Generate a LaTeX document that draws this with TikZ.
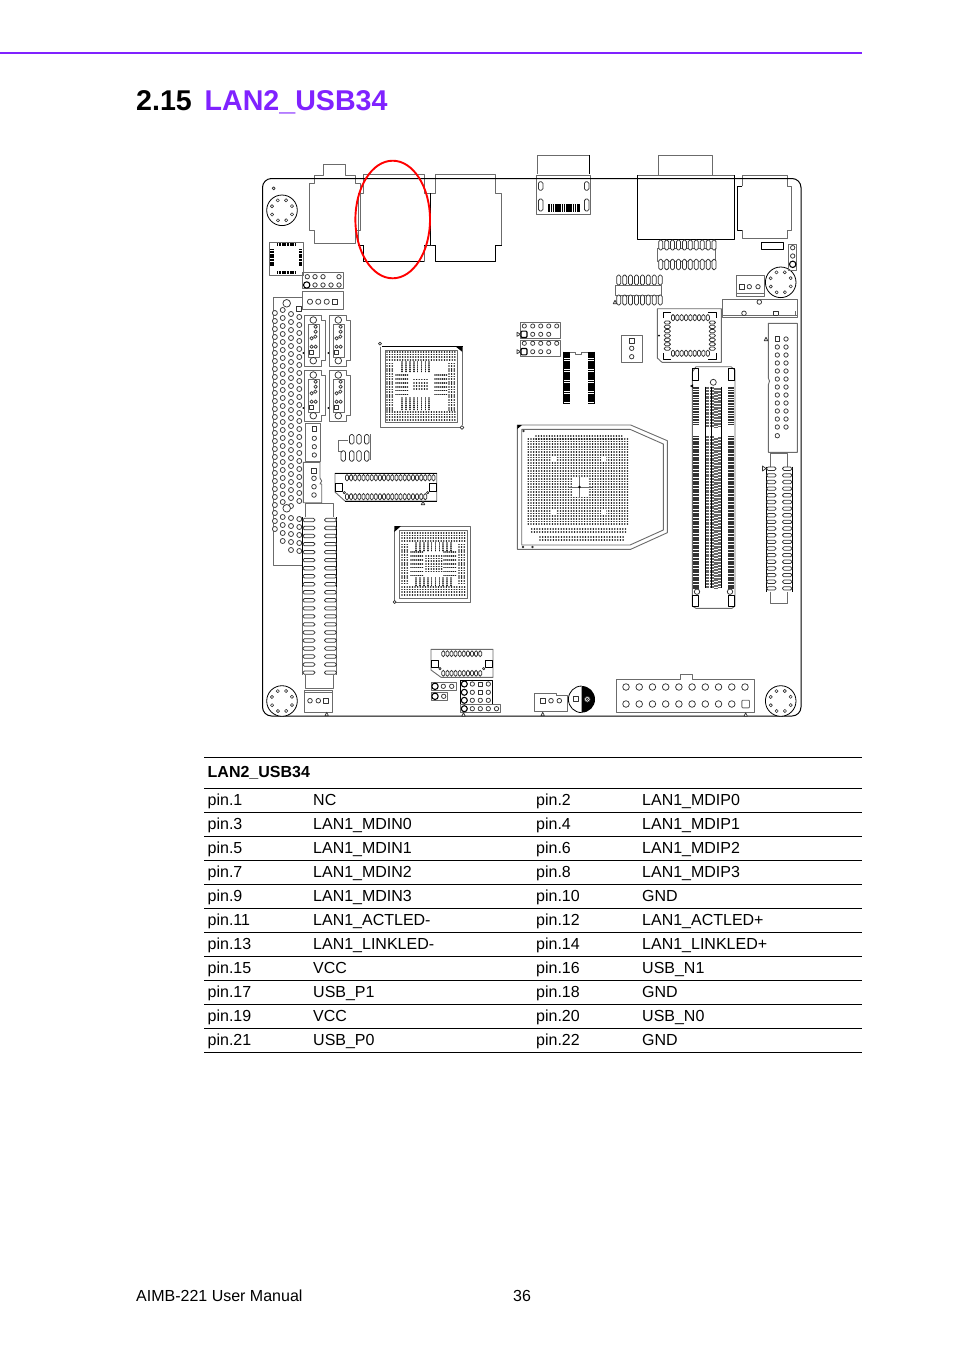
\documentclass[tikz,border=0pt]{standalone}
\usepackage{fontspec}
\setmainfont{Liberation Sans}
\usepackage{tikz}
\usetikzlibrary{calc}
\definecolor{titlepurple}{HTML}{8022FF}
\definecolor{partgray}{gray}{0.42}
\tikzset{
	boardline/.style={draw=black,line width=1pt},
	partline/.style={draw=partgray,line width=0.9pt},
	pinline/.style={draw=black!80,line width=0.75pt,fill=white},
	boldpin/.style={draw=black,line width=1.1pt,fill=white},
	tablerule/.style={draw=black,line width=0.8pt},
	tabletext/.style={anchor=base west,inner sep=0pt,font=\fontsize{16}{16}\selectfont},
	chipdot/.style={draw=black!90,line width=1.65pt,line cap=round},
}
% x y radius
\newcommand{\holept}[3]{\draw[pinline] (#1,#2) circle (#3);}
\newcommand{\squarept}[3]{\draw[pinline] (#1-#3,#2-#3) rectangle (#1+#3,#2+#3);}
\newcommand{\ovalpt}[4]{\draw[pinline,rounded corners=1.6pt] (#1-#3,#2-#4) rectangle (#1+#3,#2+#4);}
\newcommand{\markpt}[2]{\draw[pinline] (#1-1.7,#2+1.7) -- (#1+1.7,#2+1.7) -- (#1,#2-1.7) -- cycle;}
% mounting hole
\newcommand{\screwhole}[2]{
	\draw[boardline,line width=.8pt,fill=white] (#1,#2) circle (15.3);
	\foreach \a in {22,67,...,337}
		\draw[pinline,line width=.6pt] ($(#1,#2)+(\a:10.8)$) circle (1.6);
}
% rows of solder balls: x0 x1 y0 y1 rowstep dotstep
\newcommand{\dotrows}[6]{
	\pgfmathsetmacro{\ynext}{#3+#5}
	\foreach \y in {#3,\ynext,...,#4}
		\draw[chipdot,dash pattern=on 0.01pt off #6pt] (#1,\y) -- (#2,\y);
}
\newcommand{\dotcols}[6]{
	\pgfmathsetmacro{\xnext}{#1+#5}
	\foreach \x in {#1,\xnext,...,#2}
		\draw[chipdot,dash pattern=on 0.01pt off #6pt] (\x,#3) -- (\x,#4);
}
\begin{document}
\begin{tikzpicture}[x=1pt,y=-1pt,line join=round]
	\useasboundingbox (0,0) rectangle (954,1350);
	\fill[white] (0,0) rectangle (954,1350);
	\draw[draw=titlepurple,line width=1.6pt] (0,53) -- (862,53);
	\node[anchor=base west,inner sep=0pt,font=\bfseries\fontsize{28.6}{28.6}\selectfont] (secnum) at (136,110) {2.15};
	\node[anchor=base west,inner sep=0pt,text=titlepurple,font=\bfseries\fontsize{28.6}{28.6}\selectfont] (sectitle) at (204.5,110) {LAN2\_USB34};

	% connectors that stick out over the board edge
	\draw[partline] (309.3,183.3) -- (314.3,183.3) -- (314.3,175) -- (323.3,175) -- (323.3,164.3) -- (345.7,164.3) -- (345.7,175) -- (355,175) -- (355,183.3) -- (360.3,183.3) -- (360.3,230) -- (355,230) -- (355,243.3) -- (314.3,243.3) -- (314.3,230) -- (309.3,230) -- cycle;
	\draw[partline] (363.3,174) -- (424.3,174) -- (424.3,193) -- (430,193) -- (430,245) -- (424.3,245) -- (424.3,261) -- (363.3,261) -- (363.3,245) -- (358.3,245) -- (358.3,193) -- (363.3,193) -- cycle;
	\draw[partline] (435.7,174) -- (495.7,174) -- (495.7,193) -- (501.7,193) -- (501.7,245) -- (495.7,245) -- (495.7,261) -- (435.7,261) -- (435.7,245) -- (430,245) -- (430,193) -- (435.7,193) -- cycle;
	\draw[boardline] (363.3,245) -- (358.3,245) (363.3,245) -- (363.3,261) -- (424.3,261) (424.3,245) -- (430,245) -- (435.7,245) -- (435.7,261) -- (495.7,261) -- (495.7,245) -- (501.7,245) (430,245) -- (430,193);
	\draw[partline] (537.3,174) -- (537.3,155) -- (589.7,155) -- (589.7,174);
	\draw[partline] (536.7,175) rectangle (590,214.3);
	\draw[boardline,line width=.7pt] (589.7,155) -- (589.7,174);
	\foreach \x in {540.7,586.7}{
		\ovalpt{\x}{186}{2.3}{4.3}
		\ovalpt{\x}{205}{2.3}{6}
	}
	\draw[draw=black,line width=8pt,dash pattern=on 1.7pt off .5pt] (548.3,207.5) -- (579.3,207.5);
	\draw[partline] (658.3,175) -- (658.3,155) -- (712.3,155) -- (712.3,175);
	\draw[partline] (637.3,175) -- (734.7,175);
	\draw[boardline] (637.3,175) -- (637.3,239.3) -- (734.7,239.3) -- (734.7,175);
	\draw[partline] (742.3,186) -- (742.3,175.7) -- (787.7,175.7) -- (787.7,186) -- (791.7,186) -- (791.7,230) -- (787.7,230) -- (787.7,238.3) -- (742.3,238.3) -- (742.3,230);
	\draw[boardline] (742.3,186) -- (737.3,186) -- (737.3,230) -- (742.3,230);

	% board outline
	\draw[boardline,rounded corners=9pt] (262.5,178.5) rectangle (801,716);
	\screwhole{282}{210.3}
	\screwhole{780.7}{282.3}
	\screwhole{282}{701}
	\screwhole{780.7}{701}
	\holept{273.7}{188.3}{1.5}

	% clock chip top left
	\draw[partline] (269.3,242) rectangle (303.3,275.3);
	\draw[draw=black,line width=3.6pt,dash pattern=on 1.2pt off .4pt] (277,244.5) -- (296,244.5) (277,272.5) -- (296,272.5) (272,249) -- (272,266) (300.5,249) -- (300.5,266);
	% two headers
	\draw[partline] (302.3,272.7) rectangle (343,288.7);
	\foreach \x in {307.3,315,323,339}{
		\holept{\x}{276.7}{2.2}
	}
	\foreach \x in {315,323,331,339}{
		\holept{\x}{285}{2.2}
	}
	\draw[boldpin] (306.7,285) circle (3.2);
	\draw[partline] (302.3,291.3) rectangle (343,309.3);
	\foreach \x in {310,318.3,326.7}{
		\holept{\x}{301.7}{2.6}
	}
	\squarept{335}{301.7}{2.6}

	% big header on the left
	\draw[partline] (301.7,297.3) -- (273.3,297.3) -- (273.3,565.7) -- (301.7,565.7);
	\foreach \y in {317,325,...,503,519,527,...,551}{
		\holept{299.3}{\y}{2.5}
	}
	\foreach \y in {314,322,...,506,518,526,...,554}{
		\holept{291}{\y}{2.5}
	}
	\foreach \y in {310,318,...,502,517,525,...,543}{
		\holept{282.7}{\y}{2.5}
	}
	\foreach \y in {313,321,...,505,513,521,529}{
		\holept{274.9}{\y}{2.5}
	}
	\draw[pinline] (286.7,303.3) circle (3.8);
	\draw[pinline] (286.7,508.3) circle (3.8);
	\squarept{299}{309}{2.4}

	% sata ports
	\foreach \px/\py in {304.3/315,329.3/315,304.3/370,329.3/370}{
		\begin{scope}[shift={(\px,\py)}]
			\draw[partline] (0,0) -- (16.7,0) -- (16.7,5.7) -- (20.7,5.7) -- (20.7,45) -- (16.7,45) -- (16.7,51) -- (0,51) -- cycle;
			\draw[partline] (4,9) rectangle (15,42);
			\draw[pinline] (9,5) circle (3.3) (9,45.7) circle (3.3);
			\foreach \qx/\qy in {11.3/11.7,11.3/16.7,11/21.7,7.3/23.3,7.3/31.7,11.3/31.7}{
				\holept{\qx}{\qy}{1.7}
			}
			\squarept{7.3}{37.3}{1.9}
			\fill[black] (-1,38) circle (1);
		\end{scope}
	}

	% north bridge
	\draw[partline] (380,346.5) -- (380,427.5) -- (460,427.5) (462.5,352) -- (462.5,425);
	\draw[boardline] (382,346) -- (462.5,346);
	\fill[black] (455,346) -- (462.5,346) -- (462.5,352) -- cycle;
	\holept{380}{343.6}{1.5}
	\holept{462}{427.5}{1.8}
	\draw[partline] (385,350) rectangle (457.7,422.7);
	\dotrows{387}{456}{352}{361}{2.6}{2.6}
	\dotrows{387}{456}{412}{421}{2.6}{2.6}
	\dotrows{387}{394}{363.5}{411}{2.6}{2.6}
	\dotrows{449}{456}{363.5}{411}{2.6}{2.6}
	\dotrows{396}{408}{375}{396}{3.9}{1.9}
	\dotrows{435}{447}{375}{396}{3.9}{1.9}
	\dotcols{402}{430}{362}{373}{3.9}{1.9}
	\dotcols{402}{430}{398}{410}{3.9}{1.9}
	\dotrows{414}{428}{379.5}{392}{3.2}{2.6}

	% south bridge
	\draw[partline] (394.5,530) -- (394.5,602.3) -- (470.7,602.3) -- (470.7,526) -- (398,526);
	\fill[black] (394.3,526) -- (401,526) -- (394.3,532) -- cycle;
	\holept{394.7}{602}{1.5}
	\draw[partline] (399.5,530.7) rectangle (467,598.3);
	\dotrows{402}{466}{533}{542}{2.6}{2.6}
	\dotrows{402}{466}{587}{596}{2.6}{2.6}
	\dotrows{402}{409}{544.5}{586}{2.6}{2.6}
	\dotrows{459}{466}{544.5}{586}{2.6}{2.6}
	\dotrows{411}{424}{552}{577}{3.9}{1.9}
	\dotrows{444}{457}{552}{577}{3.9}{1.9}
	\dotcols{416}{452}{543}{552}{3.9}{1.9}
	\dotcols{416}{452}{578}{586}{3.9}{1.9}
	\dotrows{426}{442}{556}{574}{2.6}{2.6}

	% cpu socket
	\draw[partline] (517.3,425) -- (630.7,425) -- (667.3,440.7) -- (667.3,532.7) -- (630.7,549.3) -- (517.3,549.3) -- cycle;
	\draw[partline] (521.7,429.3) -- (630,429.3) -- (663.3,444) -- (663.3,530) -- (630,545) -- (521.7,545) -- cycle;
	\fill[black] (517.3,425) -- (522,425) -- (517.3,429) -- cycle;
	\holept{523.5}{431}{.9}
	\holept{523}{547}{.9}
	\holept{532.5}{547}{.9}
	\dotrows{536}{622.7}{436}{437}{2.67}{2.67}
	\dotrows{528.3}{630}{438.7}{526.5}{2.67}{2.67}
	\dotrows{531.7}{626.7}{529.2}{534.5}{2.67}{2.67}
	\dotrows{540}{623.5}{537.2}{538}{2.67}{2.67}
	\fill[white] (572,478) rectangle (588,497);
	\fill[white] (551,457) rectangle (556,461) (601,457) rectangle (606,461) (551,510) rectangle (556,514) (601,510) rectangle (606,514);
	\draw[draw=partgray,line width=.7pt] (568,487) -- (592,487) (579.5,475) -- (579.5,498);
	\fill[black] (579.5,487) circle (1.3);

	% bios socket and headers
	\foreach \hy in {322.3,340}{
		\draw[partline] (520,\hy) rectangle (560.7,\hy+16.5);
	}
	\foreach \x in {524.3,532.7,540.7,548.7,556.7}{
		\holept{\x}{326}{2.1}
		\holept{\x}{343.3}{2.1}
	}
	\foreach \x in {532.7,540.7,548.7}{
		\holept{\x}{334.3}{2.1}
		\holept{\x}{351.7}{2.1}
	}
	\foreach \y in {334.3,351.7}{
		\draw[boldpin,rounded corners=1pt] (521,\y-3.2) rectangle (527,\y+3.2);
		\draw[pinline] (517,\y-2) -- (520.5,\y) -- (517,\y+2) -- cycle;
	}
	\draw[draw=black,line width=6.4pt,dash pattern=on 1.8pt off .4pt] (566.5,352) -- (566.5,403.3) (591.5,352) -- (591.5,403.3);
	\draw[boardline,line width=.5pt] (563.3,351.7) -- (563.3,403.3) (594.7,351.7) -- (594.7,403.3);
	\draw[partline,line width=.6pt] (569.5,352) -- (575,352) -- (575,354.5) -- (581,354.5) -- (581,352) -- (588,352);
	\draw[partline] (621,335) rectangle (642.7,362.7);
	\squarept{631.7}{340.7}{2.2}
	\holept{631.7}{348.3}{2.2}
	\holept{631.7}{356.7}{2.2}

	% pin rows under vga
	\draw[partline] (657.3,248) rectangle (715.7,261.5);
	\foreach \i in {0,...,9}{
		\ovalpt{660.7+5.93*\i}{245}{2}{5}
		\ovalpt{660.7+5.93*\i}{264.5}{2}{5.2}
	}
	\draw[partline] (615,285) rectangle (661.7,295);
	\foreach \i in {0,...,7}{
		\ovalpt{618.7+5.93*\i}{280}{2}{5}
		\ovalpt{618.7+5.93*\i}{300}{2}{5}
	}
	\markpt{615}{302}

	% right side small parts
	\draw[boardline,line width=.8pt] (761.3,242.3) rectangle (783.3,249.3);
	\draw[partline] (788.7,244) rectangle (796.7,270);
	\holept{792.7}{247.7}{2.2}
	\holept{792.7}{256}{2.2}
	\draw[boldpin] (792.7,264.3) circle (3.2);
	\draw[partline] (736,275.3) rectangle (764.3,296.7);
	\draw[partline] (736,293) -- (764.3,293);
	\squarept{741.7}{286.7}{2.2}
	\holept{749.3}{286.7}{2.2}
	\holept{758}{286.7}{2.2}
	\draw[partline] (722.3,299) rectangle (797.3,317.3);
	\draw[partline,line width=.6pt] (722.3,315) -- (797.3,315);
	\holept{759.3}{302}{2.3}
	\holept{744}{313.3}{2.3}
	\squarept{775.7}{313.3}{2.3}
	\draw[partline,line width=.6pt] (778,315) -- (795,315) -- (795,311);

	% plcc socket
	\draw[partline] (657.3,308.7) -- (721.3,308.7) -- (721.3,362.3) -- (662,362.3) -- (657.3,358) -- cycle;
	\draw[boardline,line width=.7pt] (663,318) -- (663,312.5) -- (671,312.5) (708,312.5) -- (716,312.5) -- (716,318) (716,353) -- (716,359) -- (708,359) (671,359) -- (663,359) -- (663,353);
	\foreach \i in {0,...,8}{
		\ovalpt{673+4.35*\i}{317.7}{1.6}{3.2}
		\ovalpt{673+4.35*\i}{353.3}{1.6}{3.2}
	}
	\foreach \i in {0,...,6}{
		\ovalpt{667.3}{322.5+4.35*\i}{3.2}{1.6}
		\ovalpt{712.3}{322.5+4.35*\i}{3.2}{1.6}
	}
	\fill[black] (659,335.5) circle (1);

	% right header and slot
	\draw[partline] (768.3,323.3) -- (797.3,323.3) -- (797.3,452.3) -- (768.3,452.3) -- (768.3,385) -- (769.5,381) -- (768.3,378) -- cycle;
	\markpt{766}{339}
	\squarept{777.3}{339}{2.2}
	\foreach \y in {347,355,...,427}{
		\holept{777.3}{\y}{2.2}
	}
	\foreach \y in {339,347,...,427}{
		\holept{786}{\y}{2.2}
	}
	\holept{777.3}{435.7}{2.2}
	\draw[partline] (770.7,466.7) -- (770.7,453) -- (787.7,453) -- (787.7,466.7) (770.7,591.7) -- (770.7,603.3) -- (787.7,603.3) -- (787.7,591.7);
	\draw[boardline,line width=.8pt] (766.5,466.7) -- (766.5,591.7) (792.5,466.7) -- (792.5,591.7);
	\foreach \i in {0,...,18}{
		\ovalpt{771.3}{468.7+6.65*\i}{4.8}{1.7}
		\ovalpt{787.2}{468.7+6.65*\i}{4.8}{1.7}
	}
	\draw[pinline] (762.5,466) -- (766,468.5) -- (762.5,471) -- cycle;

	% mini pcie slot
	\draw[partline] (692.3,372) -- (692.3,606) -- (696,608.3) -- (732,608.3) -- (735,606) -- (735,370) -- (731,366.7) -- (696,366.7) -- cycle;
	\draw[boardline,line width=.7pt] (692.7,368.3) rectangle (698.7,380) (728.7,368.3) rectangle (734.3,380);
	\draw[boardline,line width=.7pt] (692.7,595) rectangle (698.7,606.7) (728.7,595) rectangle (734.3,606.7);
	\draw[draw=black!80,line width=6pt,dash pattern=on 1.1pt off .5pt] (696.3,386.7) -- (696.3,424) (696.3,436) -- (696.3,588.3) (730.7,386.7) -- (730.7,424) (730.7,436) -- (730.7,588.3);
	\draw[draw=black!60,line width=3.5pt,dash pattern=on 2.2pt off 1pt] (707.5,386.7) -- (707.5,427) (712,386.7) -- (712,427) (716,388.2) -- (716,427) (720,387.5) -- (720,427) (707.5,436) -- (707.5,588) (712,436) -- (712,588) (716,437.5) -- (716,588) (720,436.8) -- (720,588);
	\draw[boardline,line width=.6pt] (705.7,386.7) -- (705.7,588.3) (711.5,386.7) -- (711.5,588.3) (721.7,386.7) -- (721.7,588.3);
	\draw[pinline] (713.3,382.3) circle (3);
	\draw[pinline] (697,591.7) circle (2.7);
	\draw[pinline] (730,591.7) circle (2.7);
	\fill[black] (690,386) -- (693,384.3) -- (693,387.7) -- cycle;

	% left connectors in the middle
	\draw[partline] (305,423.3) -- (305,461.7) -- (320,461.7) -- (320,423.3) -- cycle;
	\squarept{314.3}{429}{2.2}
	\foreach \y in {438.3,446.7,455}{
		\holept{314.3}{\y}{2.2}
	}
	\draw[partline] (303.3,462.3) -- (320,462.3) -- (320,478) -- (321.7,481) -- (320,484) -- (321.7,484) -- (321.7,502.7) -- (303.3,502.7) -- cycle;
	\squarept{314}{470.7}{2.3}
	\foreach \y in {478.3,486.7,495}{
		\holept{314}{\y}{2.3}
	}
	\draw[partline] (338,451) -- (338,440) -- (348,440) (370,434) -- (370,460) (338,451) -- (342,451);
	\foreach \x in {351.7,359,366.7}{
		\ovalpt{\x}{439.3}{2.2}{4.8}
		\ovalpt{\x}{456}{2.2}{5.2}
	}
	\ovalpt{343.3}{456}{2.2}{5.2}
	\draw[partline] (335,473.3) -- (436.7,473.3) -- (436.7,501) -- (345,501) -- (335,492) -- cycle;
	\draw[boardline,line width=.5pt] (335,473.3) -- (436.7,473.3) (345,501) -- (436.7,501);
	\foreach \i in {0,...,21}{
		\ovalpt{347+4.12*\i}{477.7}{1.5}{3.2}
	}
	\foreach \i in {0,...,19}{
		\ovalpt{347+4.12*\i}{496.7}{1.5}{3.2}
	}
	\draw[boardline,line width=.7pt] (335.7,483.3) rectangle (342.3,491) (429.5,483.3) rectangle (436.2,491);
	\holept{344.3}{492.7}{1.2}
	\holept{427.7}{492.7}{1.2}
	\markpt{423}{503}

	% long slot
	\draw[partline] (305.7,517.3) -- (305.7,503.3) -- (333.3,503.3) -- (333.3,517.3) (305.7,675) -- (305.7,688.3) -- (333.3,688.3) -- (333.3,675);
	\draw[boardline,line width=.8pt] (302.7,517.3) -- (302.7,587) (336.7,517.3) -- (336.7,587);
	\draw[partline] (302.7,587) -- (302.7,675) (336.7,587) -- (336.7,675);
	\foreach \i in {0,...,19}{
		\ovalpt{308.9}{520+8.03*\i}{6.1}{1.7}
		\ovalpt{330.5}{520+8.03*\i}{6.1}{1.7}
	}
	\draw[partline] (304.3,690) rectangle (332.7,712.7);
	\draw[partline,line width=.6pt] (304.3,692.5) -- (332.7,692.5);
	\holept{310}{700.7}{2.3}
	\holept{318.3}{700.7}{2.3}
	\squarept{326}{700.7}{2.3}
	\markpt{326.7}{714}

	% bottom headers
	\draw[partline] (431,649.3) -- (493,649.3) -- (493,677.3) -- (441,677.3) -- (431,670) -- cycle;
	\foreach \i in {0,...,9}{
		\ovalpt{443.3+4.1*\i}{653.7}{1.5}{3}
		\ovalpt{443.3+4.1*\i}{673.3}{1.5}{3}
	}
	\draw[boardline,line width=.7pt] (431.7,660) rectangle (438.3,667.3) (485.7,660) rectangle (492.3,667.3);
	\holept{440}{668.7}{1.2}
	\holept{483.7}{668.7}{1.2}
	\draw[partline] (431,682.3) rectangle (456,690.7) (431,692.3) rectangle (447.7,700.7);
	\draw[boldpin] (435,686.3) circle (3.2);
	\holept{443.3}{686.3}{2.2}
	\holept{451.7}{686.3}{2.2}
	\draw[boldpin] (435,696.3) circle (3.2);
	\holept{443.7}{696.3}{2.2}
	\draw[boardline,line width=.7pt] (460,680) rectangle (492.7,704);
	\draw[partline] (460,704.7) rectangle (500.7,712.7);
	\foreach \y in {684,692.3,700.3,708.7}{
		\draw[boldpin] (464.3,\y) circle (3);
	}
	\foreach \x in {472.3,488.3}{
		\foreach \y in {684,692.3,700.3}{
			\holept{\x}{\y}{2.2}
		}
	}
	\holept{480.3}{700.3}{2.2}
	\squarept{480.3}{684}{2.1}
	\squarept{480.3}{692.3}{2.1}
	\foreach \x in {472.3,480.3,488.3,496.5}{
		\holept{\x}{708.7}{2.2}
	}
	\markpt{463.5}{714.5}

	% fan connector and capacitor
	\draw[partline] (534.3,693.3) -- (556.7,693.3) -- (556.7,695) -- (567.3,695) -- (567.3,711.7) -- (534.3,711.7) -- cycle;
	\squarept{542.7}{700.7}{2.3}
	\holept{551}{700.7}{2.3}
	\holept{559.3}{700.7}{2.3}
	\markpt{542.7}{714}
	\draw[boardline,line width=.8pt] (581.7,712.6) arc (90:270:13.3);
	\fill[black] (581.7,712.6) arc (90:-90:13.3) -- cycle;
	\squarept{575.7}{698.7}{2.2}
	\draw[pinline] (587.3,699.3) circle (2.8) (587.3,699.3) circle (1.2);

	% power connector
	\draw[partline] (616.7,679.3) -- (680,679.3) -- (680,674) -- (692.3,674) -- (692.3,679.3) -- (754.3,679.3) -- (754.3,712.7) -- (616.7,712.7) -- cycle;
	\foreach \i in {0,...,9}{
		\holept{626+13.22*\i}{687}{3.3}
	}
	\foreach \i in {0,...,8}{
		\holept{626+13.22*\i}{704}{3.3}
	}
	\draw[partline,rounded corners=.8pt] (741.9,700.2) rectangle (749.5,707.8);
	\markpt{745.7}{714.5}

	% red mark
	\draw[draw=red,line width=1.9pt] (392.7,219.5) ellipse (37.3 and 58.8);

	% table
	\draw[tablerule] (204,757.5) -- (862,757.5);
	\draw[tablerule] (204,788.5) -- (862,788.5);
	\node[tabletext,font=\bfseries\fontsize{16}{16}\selectfont] (tabhead) at (207.5,777) {LAN2\_USB34};
	\foreach \pa/\na/\pb/\nb [count=\r from 0] in {
		1/NC/2/LAN1\_MDIP0,
		3/LAN1\_MDIN0/4/LAN1\_MDIP1,
		5/LAN1\_MDIN1/6/LAN1\_MDIP2,
		7/LAN1\_MDIN2/8/LAN1\_MDIP3,
		9/LAN1\_MDIN3/10/GND,
		11/LAN1\_ACTLED-/12/LAN1\_ACTLED+,
		13/LAN1\_LINKLED-/14/LAN1\_LINKLED+,
		15/VCC/16/USB\_N1,
		17/USB\_P1/18/GND,
		19/VCC/20/USB\_N0,
		21/USB\_P0/22/GND}{
		\node[tabletext] (pin\pa) at (207.5,805+24*\r) {pin.\pa};
		\node[tabletext] (sig\pa) at (313,805+24*\r) {\na};
		\node[tabletext] (pin\pb) at (536,805+24*\r) {pin.\pb};
		\node[tabletext] (sig\pb) at (642,805+24*\r) {\nb};
		\draw[tablerule] (204,812.5+24*\r) -- (862,812.5+24*\r);
	}

	% footer
	\node[tabletext] (manual) at (136,1301) {AIMB-221 User Manual};
	\node[tabletext] (pageno) at (513,1301) {36};
\end{tikzpicture}
\end{document}
